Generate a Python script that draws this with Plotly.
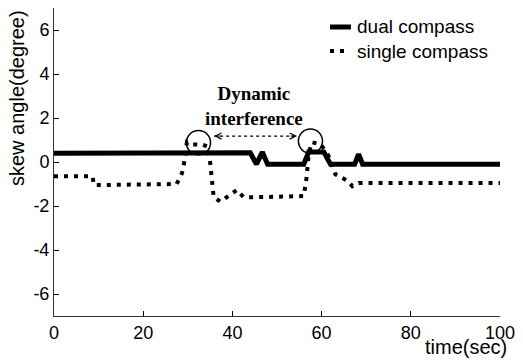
import plotly.graph_objects as go

# ---- data ----
dual_t = [0, 20, 30, 40, 44, 45.4, 46.7, 47.9, 56, 57.1, 60.5, 62, 67.4, 68.3, 69.2, 85, 100]
dual_y = [0.4, 0.4, 0.45, 0.45, 0.42, -0.1, 0.45, -0.1, -0.1, 0.45, 0.45, -0.1, -0.1, 0.35, -0.1, -0.1, -0.1]

single_t = [0, 8.6, 9.0, 27.5, 28.7, 29.2, 29.8, 31, 33, 34.6, 35.0, 35.3, 35.5, 35.8, 37.3,
            39.2, 41.0, 42.5, 45, 56, 56.3, 56.6, 57.1, 57.8, 59.8, 61.5, 63.1, 64.3, 65.8,
            66.9, 68.3, 100]
single_y = [-0.65, -0.65, -1.05, -1.0, -0.5, 0.0, 0.9, 0.8, 0.8, 0.7, 0.0, -0.5, -1.0, -1.6, -1.8,
            -1.5, -1.27, -1.6, -1.6, -1.55, -1.25, -0.75, 0.35, 0.9, 0.8, 0.3, -0.56, -0.7, -0.85,
            -1.1, -0.95, -0.95]

x_ticks = [0, 20, 40, 60, 80, 100]
x_tick_labels = ["0", "20", "40", "60", "80", "100"]
y_ticks = [-6, -4, -2, 0, 2, 4, 6]
y_tick_labels = ["-6", "-4", "-2", "0", "2", "4", "6"]
series_names = ["dual compass", "single compass"]

# circles marking the interference (center x, center y, radius x, radius y)
circles = [(32.4, 0.88, 2.7, 0.55), (57.5, 0.95, 2.7, 0.55)]
arrow_span = (35.9, 54.5, 1.18)

fig = go.Figure()
fig.add_trace(go.Scatter(x=dual_t, y=dual_y, mode="lines", name=series_names[0],
                         line=dict(color="black", width=5), showlegend=False))
fig.add_trace(go.Scatter(x=single_t, y=single_y, mode="lines", name=series_names[1],
                         line=dict(color="black", width=4, dash="4px,6px"), showlegend=False))

shapes = []
for cx, cy, rx, ry in circles:
    shapes.append(dict(type="circle", xref="x", yref="y", x0=cx - rx, x1=cx + rx,
                       y0=cy - ry, y1=cy + ry, line=dict(color="black", width=1.5)))
shapes.append(dict(type="line", xref="x", yref="y", x0=arrow_span[0], x1=arrow_span[1],
                   y0=arrow_span[2], y1=arrow_span[2], line=dict(color="black", width=1.2, dash="dot")))

# custom legend samples (paper coords)
PL, PR, PT, PB = 54, 500, 8, 316
def px(x):
    return (x - PL) / (PR - PL)
def py(y):
    return (PB - y) / (PB - PT)

shapes.append(dict(type="line", xref="paper", yref="paper", x0=px(330), x1=px(351),
                   y0=py(27), y1=py(27), line=dict(color="black", width=5)))
shapes.append(dict(type="line", xref="paper", yref="paper", x0=px(330), x1=px(347),
                   y0=py(51), y1=py(51), line=dict(color="black", width=4, dash="4px,6px")))

annotations = [
    dict(x=px(355), y=py(27), xref="paper", yref="paper", text=series_names[0], showarrow=False,
         xanchor="left", yanchor="middle", font=dict(family="Liberation Sans, Arial", size=19, color="black")),
    dict(x=px(355), y=py(51), xref="paper", yref="paper", text=series_names[1], showarrow=False,
         xanchor="left", yanchor="middle", font=dict(family="Liberation Sans, Arial", size=19, color="black")),
    dict(x=px(254), y=py(106), xref="paper", yref="paper", text="<b>Dynamic<br>interference</b>",
         showarrow=False, xanchor="center", yanchor="middle", align="center",
         font=dict(family="Liberation Serif, Times New Roman", size=19, color="black")),
    dict(x=arrow_span[0], y=arrow_span[2], xref="x", yref="y", ax=8, ay=0, text="", showarrow=True,
         arrowhead=5, arrowsize=1.2, arrowwidth=1, arrowcolor="black"),
    dict(x=arrow_span[1], y=arrow_span[2], xref="x", yref="y", ax=-8, ay=0, text="", showarrow=True,
         arrowhead=5, arrowsize=1.2, arrowwidth=1, arrowcolor="black"),
    dict(x=px(17), y=py(98), xref="paper", yref="paper", text="skew angle(degree)", textangle=-90,
         showarrow=False, xanchor="center", yanchor="middle",
         font=dict(family="Liberation Sans, Arial", size=20, color="black")),
    dict(x=px(466), y=py(359), xref="paper", yref="paper", text="time(sec)",
         showarrow=False, xanchor="center", yanchor="bottom", borderpad=0,
         font=dict(family="Liberation Sans, Arial", size=20, color="black")),
]

fig.update_layout(
    width=523, height=360,
    margin=dict(l=PL, r=523 - PR, t=PT, b=360 - PB),
    paper_bgcolor="white", plot_bgcolor="white",
    shapes=shapes, annotations=annotations,
    font=dict(family="Liberation Sans, Arial", size=18, color="black"),
)
fig.update_xaxes(range=[0, 100], tickvals=x_ticks, ticktext=x_tick_labels, ticks="inside", ticklen=5,
                 tickcolor="black", showline=True, linecolor="#333", linewidth=1, showgrid=False,
                 zeroline=False, tickfont=dict(size=18))
fig.update_yaxes(range=[-7, 7], tickvals=y_ticks, ticktext=y_tick_labels, ticks="inside", ticklen=5,
                 tickcolor="black", showline=True, linecolor="#333", linewidth=1, showgrid=False,
                 zeroline=False, tickfont=dict(size=18))

fig.write_html("out.html")
